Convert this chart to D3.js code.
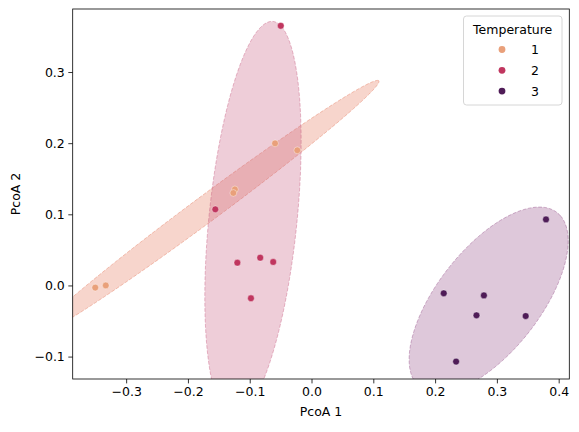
<!DOCTYPE html>
<html><head><meta charset="utf-8">
<script src="https://cdn.jsdelivr.net/npm/d3@7"></script>
<style>body{margin:0;background:#fff}svg{display:block}</style>
</head><body>
<svg id="c" width="579" height="432"></svg>
<script>
// ---- data ----
const groups = ["1", "2", "3"];
const group1X = [-0.350, -0.333, -0.124, -0.1265, -0.059, -0.023];
const group1Y = [-0.003, 0.000, 0.135, 0.130, 0.1997, 0.190];
const group2X = [-0.0498, -0.1557, -0.120, -0.083, -0.062, -0.098];
const group2Y = [0.365, 0.107, 0.032, 0.039, 0.033, -0.018];
const group3X = [0.3795, 0.214, 0.279, 0.267, 0.3466, 0.234];
const group3Y = [0.0928, -0.011, -0.014, -0.042, -0.043, -0.107];
const xTicks = [-0.3, -0.2, -0.1, 0.0, 0.1, 0.2, 0.3, 0.4];
const yTicks = [-0.1, 0.0, 0.1, 0.2, 0.3];
const colors = ["#e9a07a", "#c0365f", "#4f1c57"];
const ellipseColors = ["#e47355", "#c6587d", "#914884"];
const nStd = 2;

const seriesX = [group1X, group2X, group3X];
const seriesY = [group1Y, group2Y, group3Y];

const W = 579, H = 432;
const L = 72.7, R = 569.3, T = 9, B = 379;
const x = d3.scaleLinear().domain([-0.3865, 0.4172]).range([L, R]);
const y = d3.scaleLinear().domain([-0.1315, 0.3886]).range([B, T]);
const font = "DejaVu Sans, sans-serif";
const svg = d3.select("#c");

svg.append("defs").append("clipPath").attr("id", "clip")
  .append("rect").attr("x", L).attr("y", T).attr("width", R - L).attr("height", B - T);

const plot = svg.append("g").attr("clip-path", "url(#clip)");

// confidence ellipses
groups.forEach((g, i) => {
  const xs = seriesX[i], ys = seriesY[i], n = xs.length;
  const mx = d3.mean(xs), my = d3.mean(ys);
  let sxx = 0, syy = 0, sxy = 0;
  for (let k = 0; k < n; k++) {
    sxx += (xs[k] - mx) ** 2; syy += (ys[k] - my) ** 2; sxy += (xs[k] - mx) * (ys[k] - my);
  }
  sxx /= n - 1; syy /= n - 1; sxy /= n - 1;
  const rho = sxy / Math.sqrt(sxx * syy);
  const rx = Math.sqrt(1 + rho), ry = Math.sqrt(1 - rho);
  const scx = nStd * Math.sqrt(sxx), scy = nStd * Math.sqrt(syy);
  const pts = d3.range(0, 361).map(a => {
    const t = a * Math.PI / 180;
    const ex = rx * Math.cos(t), ey = ry * Math.sin(t);
    const xr = (ex - ey) / Math.SQRT2, yr = (ex + ey) / Math.SQRT2;
    return [x(mx + xr * scx), y(my + yr * scy)];
  });
  plot.append("path")
    .attr("d", d3.line()(pts) + "Z")
    .attr("fill", ellipseColors[i]).attr("fill-opacity", 0.3)
    .attr("stroke", ellipseColors[i]).attr("stroke-opacity", 0.4)
    .attr("stroke-width", 1).attr("stroke-dasharray", "3.7,1.6");
});

// points
groups.forEach((g, i) => {
  plot.selectAll(null).data(seriesX[i].map((v, k) => [v, seriesY[i][k]]))
    .enter().append("circle")
    .attr("cx", d => x(d[0])).attr("cy", d => y(d[1])).attr("r", 3.4)
    .attr("fill", colors[i]).attr("stroke", "#fff").attr("stroke-width", 0.4);
});

// axes
const xAxis = svg.append("g").attr("transform", `translate(0,${B})`)
  .call(d3.axisBottom(x).tickValues(xTicks).tickFormat(d3.format(".1f")).tickSizeOuter(0).tickSize(4.4).tickPadding(3.5));
const yAxis = svg.append("g").attr("transform", `translate(${L},0)`)
  .call(d3.axisLeft(y).tickValues(yTicks).tickFormat(d3.format(".1f")).tickSizeOuter(0).tickSize(4.4).tickPadding(3.5));
[xAxis, yAxis].forEach(a => {
  a.select(".domain").remove();
  a.selectAll("text").attr("font-family", font).attr("font-size", 12.5).attr("fill", "#000");
  a.selectAll("line").attr("stroke", "#000").attr("stroke-width", 0.8);
});

// frame
svg.append("rect").attr("x", L).attr("y", T).attr("width", R - L).attr("height", B - T)
  .attr("fill", "none").attr("stroke", "#000").attr("stroke-width", 0.8);

// axis labels
svg.append("text").attr("x", (L + R) / 2).attr("y", 416).attr("text-anchor", "middle")
  .attr("font-family", font).attr("font-size", 12.5).text("PcoA 1");
svg.append("text").attr("transform", `translate(20,${(T + B) / 2}) rotate(-90)`)
  .attr("text-anchor", "middle").attr("font-family", font).attr("font-size", 12.5).text("PcoA 2");

// legend
const lg = svg.append("g");
lg.append("rect").attr("x", 463.5).attr("y", 16).attr("width", 98.5).attr("height", 89).attr("rx", 3)
  .attr("fill", "#fff").attr("fill-opacity", 0.8).attr("stroke", "#ccc").attr("stroke-width", 0.8);
lg.append("text").attr("x", 512.7).attr("y", 34).attr("text-anchor", "middle")
  .attr("font-family", font).attr("font-size", 12.5).text("Temperature");
groups.forEach((g, i) => {
  const yy = 49.5 + i * 20.8;
  lg.append("circle").attr("cx", 502).attr("cy", yy).attr("r", 3.4).attr("fill", colors[i]);
  lg.append("text").attr("x", 535).attr("y", yy + 4.5).attr("text-anchor", "middle")
    .attr("font-family", font).attr("font-size", 12.5).text(g);
});
</script>
</body></html>
